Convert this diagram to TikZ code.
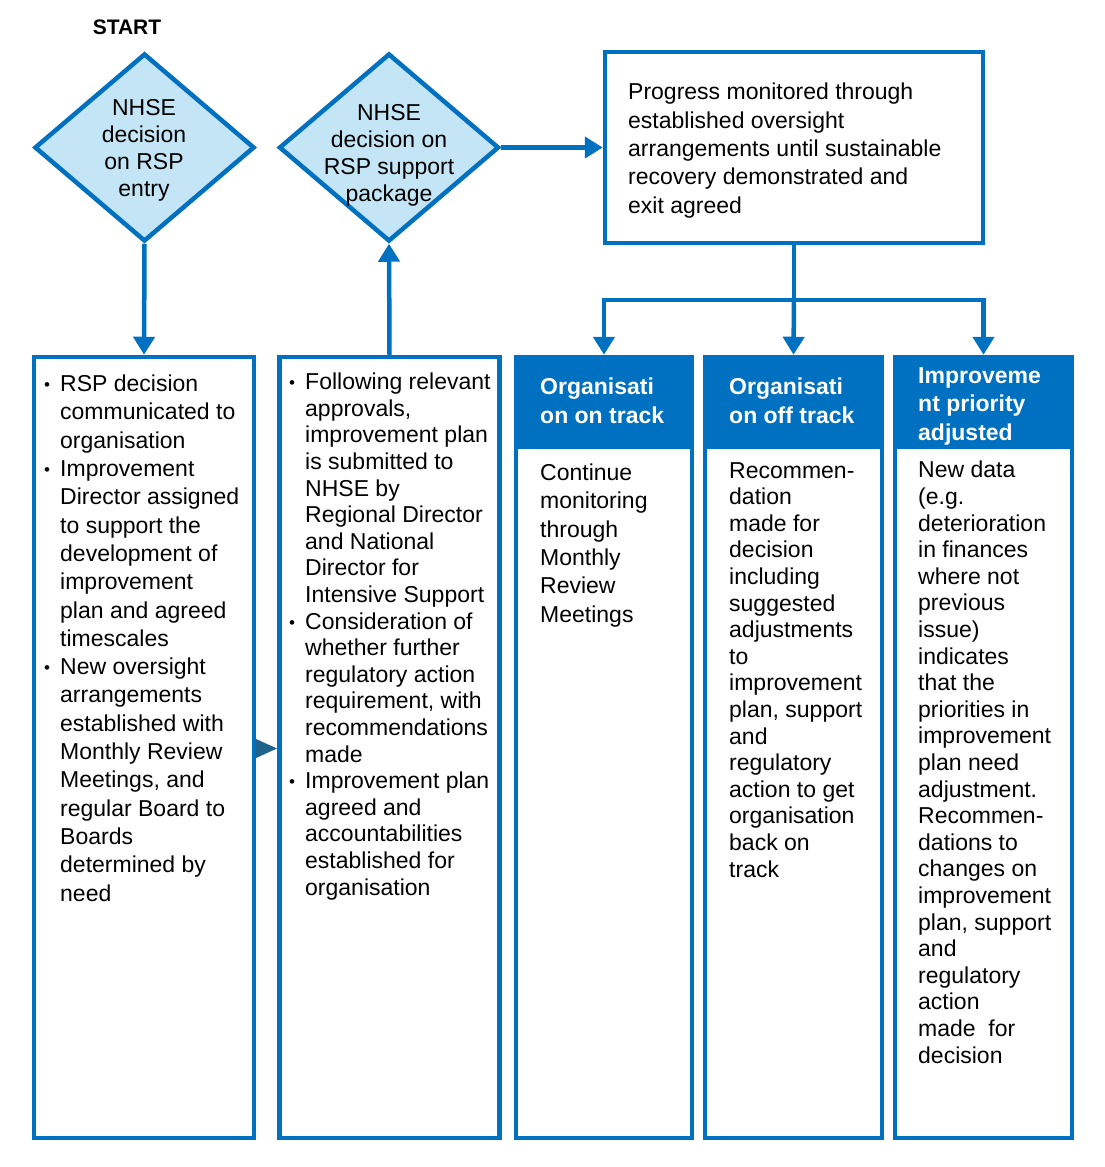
\documentclass[tikz,border=0pt]{standalone}
\usepackage{fontspec}
\setmainfont{Liberation Sans}
\usetikzlibrary{arrows.meta,shapes.geometric}
\definecolor{nblue}{RGB}{0,112,192}
\definecolor{dfill}{RGB}{196,229,245}
\definecolor{tealtri}{RGB}{31,99,140}
\newcommand\mybul{\makebox[16pt][l]{\fontsize{17}{17}\selectfont\raisebox{1pt}{•}}}
\newcommand\myind{\hspace*{16pt}}
\begin{document}
\begin{tikzpicture}[x=1pt,y=-1pt,
  box/.style={draw=nblue,line width=4.5pt,minimum width=#1,inner sep=0pt,minimum height=781pt},
  hdr/.style={draw=nblue,fill=nblue,line width=4.5pt,minimum width=#1,inner sep=0pt,minimum height=90pt},
  dia/.style={diamond,draw=nblue,fill=dfill,line width=4.5pt,minimum width=220pt,minimum height=188pt,inner sep=0pt},
  arr/.style={draw=nblue,line width=4.5pt,-{Triangle[width=21pt,length=18pt]}},
  txt/.style={inner sep=0pt,align=left,anchor=base west,font=\fontsize{23}{28.3}\selectfont},
  txtb/.style={inner sep=0pt,align=left,anchor=base west,font=\fontsize{23}{26.6}\selectfont},
  htxt/.style={inner sep=0pt,align=left,anchor=base west,text=white,font=\fontsize{23}{28.3}\selectfont\bfseries},
  dtxt/.style={inner sep=0pt,align=center,anchor=base,font=\fontsize{23}{26.7}\selectfont}]
\useasboundingbox[fill=white] (0,0) rectangle (1105,1167);

% START
\node[inner sep=0pt,anchor=base,font=\fontsize{21}{21}\selectfont\bfseries] (start) at (127,34) {START};

% diamonds
\node[dia] (d1) at (144.5,147.5) {};
\node[dia] (d2) at (389,147.5) {};
\node[dtxt] (d1t) at (144,196) {NHSE\\decision\\on RSP\\entry};
\node[dtxt] (d2t) at (389,201) {NHSE\\decision on\\RSP support\\package};

% progress box
\node[draw=nblue,line width=4.5pt,minimum width=378pt,minimum height=191pt,inner sep=0pt] (pb) at (794,147.5) {};
\node[txt] (pbt) at (628,213) {Progress monitored through\\established oversight\\arrangements until sustainable\\recovery demonstrated and\\exit agreed};

% lower boxes
\node[box=220pt] (b1) at (144,747.5) {};
\node[box=220pt] (b2) at (389.5,747.5) {};
\node[box=176pt] (b3) at (604,747.5) {};
\node[box=177pt] (b4) at (793.5,747.5) {};
\node[box=177pt] (b5) at (983.5,747.5) {};
\node[hdr=176pt,anchor=north] (h3) at (b3.north) {};
\node[hdr=177pt,anchor=north] (h4) at (b4.north) {};
\node[hdr=177pt,anchor=north] (h5) at (b5.north) {};

% header texts
\node[htxt] (h3t) at (540,423) {Organisati\\on on track};
\node[htxt] (h4t) at (729,423) {Organisati\\on off track};
\node[htxt,font=\fontsize{23}{28.5}\selectfont\bfseries] (h5t) at (918,440) {Improveme\\nt priority\\adjusted};

% body texts
\node[txt] (b1t) at (44,901) {\mybul RSP decision\\\myind communicated to\\\myind organisation\\\mybul Improvement\\\myind Director assigned\\\myind to support the\\\myind development of\\\myind improvement\\\myind plan and agreed\\\myind timescales\\\mybul New oversight\\\myind arrangements\\\myind established with\\\myind Monthly Review\\\myind Meetings, and\\\myind regular Board to\\\myind Boards\\\myind determined by\\\myind need};
\node[txtb] (b2t) at (289,895) {\mybul Following relevant\\\myind approvals,\\\myind improvement plan\\\myind is submitted to\\\myind NHSE by\\\myind Regional Director\\\myind and National\\\myind Director for\\\myind Intensive Support\\\mybul Consideration of\\\myind whether further\\\myind regulatory action\\\myind requirement, with\\\myind recommendations\\\myind made\\\mybul Improvement plan\\\myind agreed and\\\myind accountabilities\\\myind established for\\\myind organisation};
\node[txt] (b3t) at (540,622) {Continue\\monitoring\\through\\Monthly\\Review\\Meetings};
\node[txtb] (b4t) at (729,877) {Recommen-\\dation\\made for\\decision\\including\\suggested\\adjustments\\to\\improvement\\plan, support\\and\\regulatory\\action to get\\organisation\\back on\\track};
\node[txtb] (b5t) at (918,1063) {New data\\(e.g.\\deterioration\\in finances\\where not\\previous\\issue)\\indicates\\that the\\priorities in\\improvement\\plan need\\adjustment.\\Recommen-\\dations to\\changes on\\improvement\\plan, support\\and\\regulatory\\action\\made~ for\\decision};

% connectors
\draw[arr] (d1.south) -- (b1.north);
\draw[arr] (b2.north) -- (d2.south);
\draw[arr] (d2.east) -- (pb.west);
\coordinate (split) at (794,300);
\draw[draw=nblue,line width=4.5pt] (pb.south) -- (split);
\draw[arr] (split) -- (h4.north);
\draw[arr] (split) -| (h3.north);
\draw[arr] (split) -| (h5.north);

% small triangle between first two boxes
\fill[tealtri] (256,739) -- (277,748.5) -- (256,758) -- cycle;
\end{tikzpicture}
\end{document}
